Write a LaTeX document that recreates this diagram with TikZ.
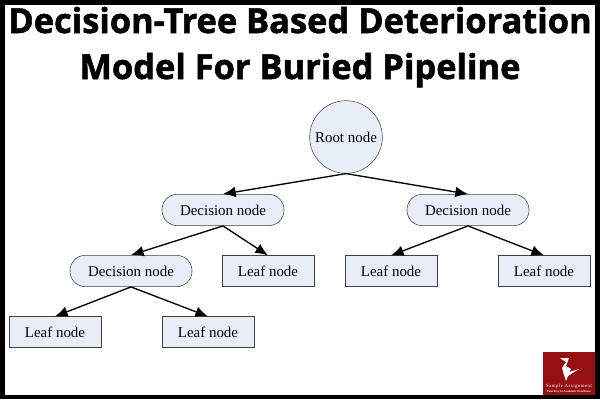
\documentclass[tikz,border=0pt]{standalone}
\usepackage{fontspec}
\setmainfont{Liberation Serif}
\newfontfamily\titlefont[FakeBold=1.5]{Open Sans Bold}
\tikzset{x=0.75pt,y=-0.75pt,
 dec/.style={draw=black!75,fill=fillblue,rounded corners=11.5pt,minimum width=91.5pt,minimum height=23.5pt,inner sep=0pt,line width=0.4pt,font=\fontsize{11.2}{13}\selectfont},
 leaf/.style={draw=black!75,fill=fillblue,minimum width=69pt,minimum height=23pt,inner sep=0pt,line width=0.4pt,font=\fontsize{11.2}{13}\selectfont},
 rootn/.style={draw=black!75,fill=fillblue,circle,minimum size=54.5pt,inner sep=0pt,line width=0.4pt,font=\fontsize{11.2}{13}\selectfont},
 conn/.style={line width=1pt,-{Latex[length=9.5pt,width=8pt]}},
 ttl/.style={font=\titlefont\fontsize{25.8}{30}\selectfont,inner sep=0pt,anchor=base}}
\usetikzlibrary{arrows.meta}
\definecolor{fillblue}{RGB}{232,238,247}
\definecolor{logored}{RGB}{150,15,18}
\begin{document}
\begin{tikzpicture}
\useasboundingbox (0,0) rectangle (600,400);
\fill[white] (0,0) rectangle (600,400);
\draw[line width=3.2pt] (2.5,2.5) rectangle (597.5,397);
\node[ttl] (t1) at (300,33) {Decision-Tree Based Deterioration};
\node[ttl] (t2) at (300,79) {Model For Buried Pipeline};
\node[rootn] (r) at (346,137) {Root node};
\node[dec] (d1) at (223,210) {Decision node};
\node[dec] (d2) at (468,210) {Decision node};
\node[dec] (d3) at (131,271) {Decision node};
\node[leaf] (l1) at (268,271) {Leaf node};
\node[leaf] (l2) at (391,271) {Leaf node};
\node[leaf] (l3) at (544,271) {Leaf node};
\node[leaf] (l4) at (55,332) {Leaf node};
\node[leaf] (l5) at (208,332) {Leaf node};
\draw[conn] (r.south) -- (d1.north);
\draw[conn] (r.south) -- (d2.north);
\draw[conn] (d1.south) -- (d3.north);
\draw[conn] (d1.south) -- (l1.north);
\draw[conn] (d2.south) -- (l2.north);
\draw[conn] (d2.south) -- (l3.north);
\draw[conn] (d3.south) -- (l4.north);
\draw[conn] (d3.south) -- (l5.north);
\node[fill=logored,minimum width=39pt,minimum height=32.5pt,inner sep=0pt] (logo) at (569,373.5) {};
\fill[white] (560,358) -- (569,358) -- (566,366) -- (571,369) -- (569,372) -- (579,369) -- (568,376) -- (566,381) -- (564,375) -- (562,368) -- (566,362) -- cycle;
\node[text=white,font=\addfontfeature{LetterSpace=10}\fontsize{3.6}{5}\selectfont,inner sep=0pt] (s1) at (569,386) {Sample Assignment};
\node[text=white,font=\bfseries\fontsize{2.3}{3}\selectfont,inner sep=0pt] (s2) at (569,392) {Your Key to Academic Excellence};
\end{tikzpicture}
\end{document}
